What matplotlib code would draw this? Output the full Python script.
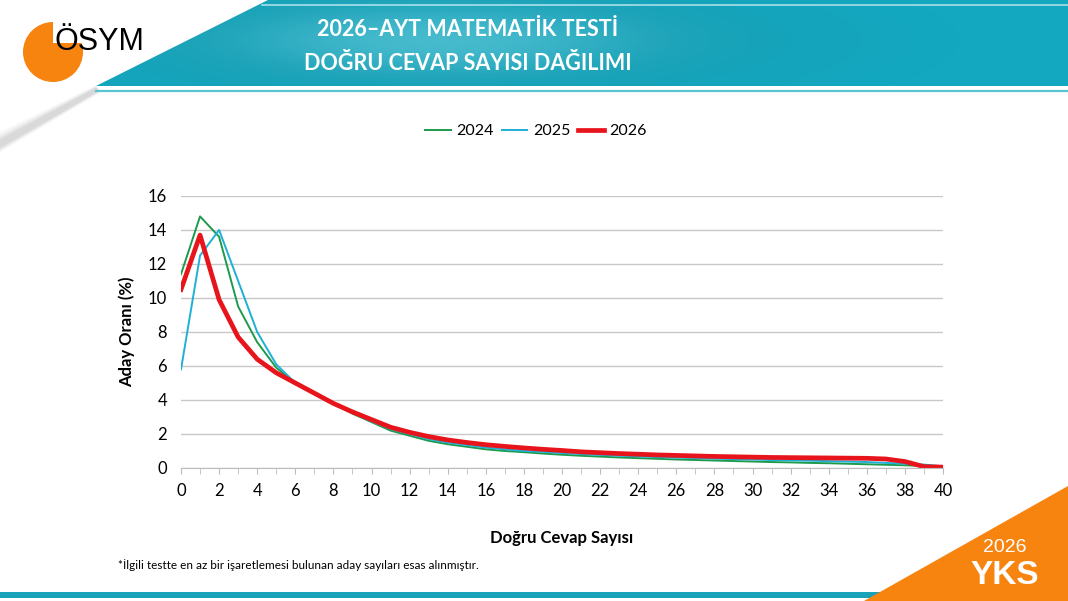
import numpy as np
import matplotlib.pyplot as plt
from matplotlib.patches import Polygon, Circle, Rectangle

# Doğru cevap sayısı (0-40)
dogru = list(range(41))

# Aday oranı (%)
y2024 = [11.4, 14.8, 13.6, 9.5, 7.4, 5.9, 5.0, 4.4, 3.8, 3.2, 2.7, 2.2, 1.9, 1.6, 1.4,
         1.25, 1.1, 1.0, 0.93, 0.85, 0.78, 0.72, 0.67, 0.62, 0.58, 0.54, 0.5, 0.47, 0.44,
         0.41, 0.38, 0.35, 0.33, 0.3, 0.28, 0.25, 0.22, 0.19, 0.16, 0.12, 0.08]
y2025 = [5.8, 12.5, 14.0, 11.0, 8.0, 6.1, 5.0, 4.4, 3.8, 3.25, 2.75, 2.3, 2.0, 1.7, 1.5,
         1.35, 1.2, 1.1, 1.0, 0.95, 0.88, 0.82, 0.77, 0.72, 0.68, 0.64, 0.61, 0.58, 0.55,
         0.52, 0.5, 0.47, 0.45, 0.43, 0.4, 0.38, 0.35, 0.3, 0.25, 0.2, 0.1]
y2026 = [10.5, 13.7, 9.9, 7.7, 6.4, 5.6, 5.0, 4.4, 3.8, 3.3, 2.85, 2.4, 2.1, 1.85, 1.65,
         1.5, 1.37, 1.27, 1.18, 1.1, 1.03, 0.95, 0.9, 0.85, 0.81, 0.77, 0.74, 0.71, 0.68,
         0.66, 0.64, 0.62, 0.61, 0.6, 0.59, 0.58, 0.57, 0.53, 0.38, 0.08, 0.05]

years = ['2024', '2025', '2026']
colors = ['#1e9a4c', '#1eb0d6', '#e8141c']
widths = [1.4, 1.4, 3.4]

FONT = 'Lato'
W, H = 1068, 601
fig = plt.figure(figsize=(W / 100, H / 100), dpi=100)
fig.patch.set_facecolor('white')

# background decorations in pixel coordinates
bg = fig.add_axes([0, 0, 1, 1])
bg.set_xlim(0, W)
bg.set_ylim(H, 0)
bg.axis('off')

# soft grey shadow under the white diagonal
for i, a in enumerate([0.06, 0.08, 0.10, 0.12]):
    d = 9 - 2.5 * i
    bg.add_patch(Polygon([[0, 141 - d], [0, 147 + d * 0.6], [100, 90 + d * 0.3], [96, 88 - d * 0.3]],
                         closed=True, facecolor='#8a8a8a', edgecolor='none', alpha=a))

# teal band with a soft lighter glow
band = Polygon([[268, 0], [W, 0], [W, 86], [96, 86]], closed=True,
               facecolor='#14a8c0', edgecolor='none')
bg.add_patch(band)
gx = np.linspace(0, W, 400)
gy = np.linspace(0, 86, 60)
GX, GY = np.meshgrid(gx, gy)
glow = np.exp(-((GX - 440) / 260) ** 2 - ((GY - 40) / 45) ** 2)
im = bg.imshow(glow, extent=[0, W, 86, 0], cmap='Greys_r', alpha=glow * 0.22,
               aspect='auto', zorder=2, vmin=0, vmax=1)
im.set_clip_path(band)
bg.plot([262, W], [5, 5], color='#a8e0ea', lw=1.2, zorder=3)
bg.plot([96, W], [91, 91], color='#5cc3d3', lw=1.6)

# ÖSYM logo
bg.add_patch(Circle((53, 52), 30, facecolor='#f7840f', edgecolor='none'))
bg.add_patch(Rectangle((53, 18), 40, 25, facecolor='white', edgecolor='none'))
bg.text(54, 50, 'ÖSYM', fontsize=22, family='Liberation Sans', color='black',
        ha='left', va='baseline')

bg.text(468, 30, '2026–AYT MATEMATİK TESTİ', fontsize=15.5, fontweight='bold',
        family=FONT, color='white', ha='center', va='center', zorder=4)
bg.text(468, 63, 'DOĞRU CEVAP SAYISI DAĞILIMI', fontsize=15.5, fontweight='bold',
        family=FONT, color='white', ha='center', va='center', zorder=4)

# bottom decorations
bg.add_patch(Rectangle((0, 592), 900, 6, facecolor='#1aa3b8', edgecolor='none'))
bg.add_patch(Polygon([[864, H], [W, 486], [W, H]], closed=True,
                     facecolor='#f7840f', edgecolor='none'))
bg.text(1005, 548, '2026', fontsize=14, family='Liberation Sans', color='white',
        ha='center', va='center')
bg.text(1005, 576, 'YKS', fontsize=24, fontweight='bold', family='Liberation Sans',
        color='white', ha='center', va='center')

bg.text(118, 565, '*İlgili testte en az bir işaretlemesi bulunan aday sayıları esas alınmıştır.',
        fontsize=8.5, family=FONT, color='black', ha='left', va='center')

# main chart
ax = fig.add_axes([181 / W, 1 - 468 / H, (943 - 181) / W, (468 - 196) / H])
for yr, ys, c, lw in zip(years, [y2024, y2025, y2026], colors, widths):
    ax.plot(dogru, ys, color=c, lw=lw, label=yr, solid_joinstyle='round')

ax.set_xlim(0, 40)
ax.set_ylim(0, 16)
ax.set_xticks(range(0, 41, 2))
ax.set_xticks(range(0, 41, 1), minor=True)
ax.set_yticks(range(0, 17, 2))
ax.yaxis.grid(True, color='#c8c8c8', lw=1)
ax.set_axisbelow(True)
for s in ['top', 'right', 'left']:
    ax.spines[s].set_visible(False)
ax.spines['bottom'].set_color('#bdbdbd')
ax.tick_params(axis='y', length=0, pad=10, labelsize=12)
ax.tick_params(axis='x', which='both', direction='out', length=4, color='#bdbdbd',
               labelsize=12, pad=7)
for lab in ax.get_xticklabels() + ax.get_yticklabels():
    lab.set_family(FONT)

ax.set_ylabel('Aday Oranı (%)', fontsize=12, fontweight='bold', family=FONT, labelpad=9)
ax.set_xlabel('Doğru Cevap Sayısı', fontsize=12, fontweight='bold', family=FONT, labelpad=22)

leg = ax.legend(loc='center', bbox_to_anchor=((536 - 181) / (943 - 181), 1 + (196 - 131) / (468 - 196)),
                ncol=3, frameon=False, handlelength=1.6, columnspacing=0.5,
                handletextpad=0.35, prop={'family': FONT, 'size': 11.5})

fig.savefig('out.png', dpi=100)
